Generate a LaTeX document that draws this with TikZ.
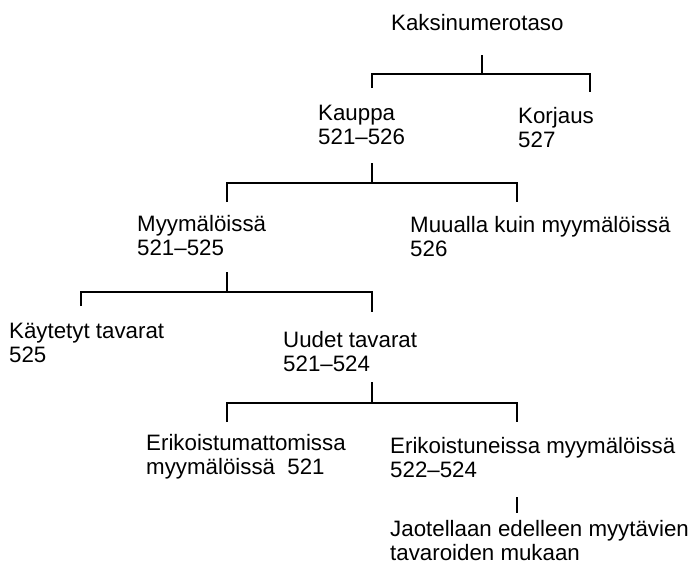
\documentclass[tikz,border=0pt]{standalone}
\usepackage{fontspec}
\setmainfont{Liberation Sans}
\usepackage{tikz}
\tikzset{x=1pt,y=-1pt}
\tikzset{lbl/.style={anchor=base west,inner sep=0pt,align=left,font=\fontsize{22.3}{24}\selectfont},
  branch/.style={draw=black,line width=2pt}}

\begin{document}
\begin{tikzpicture}
\useasboundingbox (0,0) rectangle (696,571);

\path (391,30) node (kaksi) [lbl] {Kaksinumerotaso};

\path (318,144) node (kauppa) [lbl] {Kauppa\\521--526};
\path (518,147) node (korjaus) [lbl] {Korjaus\\527};

\path (137,255) node (myym) [lbl] {Myymälöissä\\521--525};
\path (410,256) node (muualla) [lbl] {Muualla kuin myymälöissä\\526};

\path (9,362) node (kaytetyt) [lbl] {Käytetyt tavarat\\525};
\path (283,371) node (uudet) [lbl] {Uudet tavarat\\521--524};

\path (146,474) node (erimat) [lbl] {Erikoistumattomissa\\myymälöissä\ \ 521};
\path (390,477) node (erikois) [lbl] {Erikoistuneissa myymälöissä\\522--524};

\path (390,560) node (jaot) [lbl] {Jaotellaan edelleen myytävien\\tavaroiden mukaan};

% kaksinumerotaso
\draw[branch] (kaksi.base -| 482,0) ++(0,25) -- ++(0,19) coordinate (b1);
\coordinate (d1a) at (372,88);
\coordinate (d1b) at (590,92);
\draw[branch] (d1a) |- (b1) -| (d1b);

% kauppa
\draw[branch] (kauppa.base -| 372,0) ++(0,19) -- ++(0,20) coordinate (b2);
\coordinate (d2a) at (227,202);
\coordinate (d2b) at (517,202);
\draw[branch] (d2a) |- (b2) -| (d2b);

% myymaloissa
\draw[branch] (myym.base -| 227,0) ++(0,17) -- ++(0,20) coordinate (b3);
\coordinate (d3a) at (81,306);
\coordinate (d3b) at (372,312);
\draw[branch] (d3a) |- (b3) -| (d3b);

% uudet tavarat
\draw[branch] (uudet.base -| 372,0) ++(0,11) -- ++(0,21) coordinate (b4);
\coordinate (d4a) at (227,422);
\coordinate (d4b) at (517,422);
\draw[branch] (d4a) |- (b4) -| (d4b);

% erikoistuneissa
\draw[branch] (erikois.base -| 517,0) ++(0,20) -- ++(0,16) coordinate (d5);
\end{tikzpicture}
\end{document}
